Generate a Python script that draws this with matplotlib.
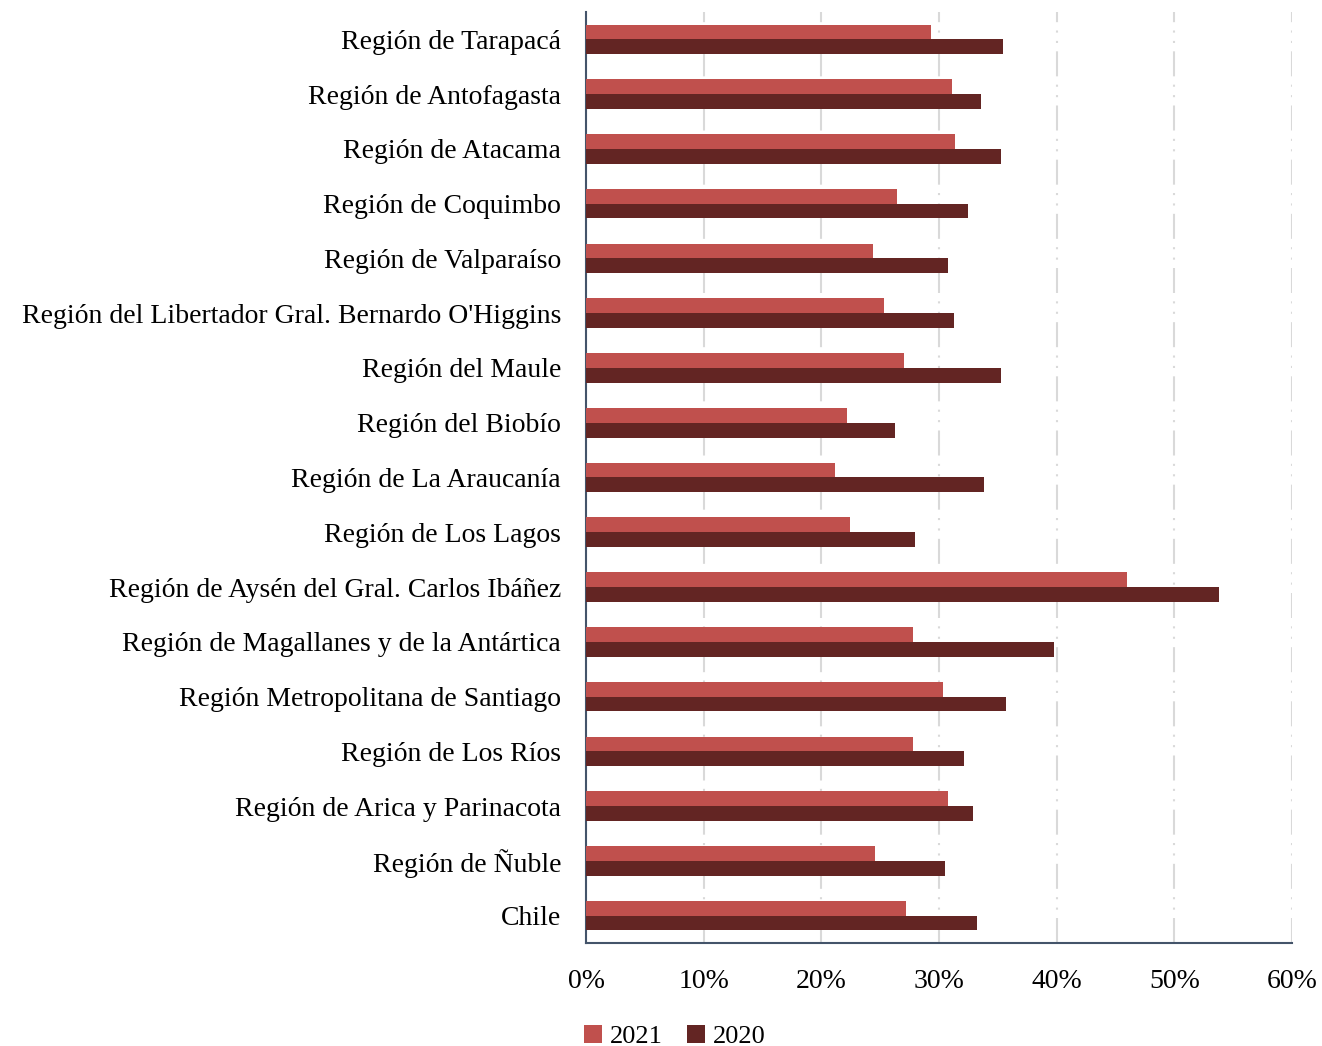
import numpy as np
import matplotlib.pyplot as plt
from matplotlib.ticker import PercentFormatter

regiones = [
    "Región de Tarapacá",
    "Región de Antofagasta",
    "Región de Atacama",
    "Región de Coquimbo",
    "Región de Valparaíso",
    "Región del Libertador Gral. Bernardo O'Higgins",
    "Región del Maule",
    "Región del Biobío",
    "Región de La Araucanía",
    "Región de Los Lagos",
    "Región de Aysén del Gral. Carlos Ibáñez",
    "Región de Magallanes y de la Antártica",
    "Región Metropolitana de Santiago",
    "Región de Los Ríos",
    "Región de Arica y Parinacota",
    "Región de Ñuble",
    "Chile",
]
v2021 = [29.3, 31.1, 31.4, 26.4, 24.4, 25.3, 27.0, 22.2, 21.2, 22.4, 46.0, 27.8, 30.3, 27.8, 30.8, 24.6, 27.2]
v2020 = [35.4, 33.6, 35.3, 32.5, 30.8, 31.3, 35.3, 26.3, 33.8, 28.0, 53.8, 39.8, 35.7, 32.1, 32.9, 30.5, 33.2]

plt.rcParams['font.family'] = ['Liberation Serif', 'DejaVu Serif']

fig = plt.figure(figsize=(13.22, 10.46), dpi=100)
ax = fig.add_axes([0.4433, 0.0985, 0.534, 0.89])

y = np.arange(len(regiones))
h = 0.27
ax.barh(y - h / 2, v2021, height=h, color='#C0504D', label='2021', zorder=3)
ax.barh(y + h / 2, v2020, height=h, color='#632523', label='2020', zorder=3)

ax.set_xlim(0, 60)
ax.set_ylim(len(regiones) - 0.5, -0.5)
ax.set_yticks(y)
ax.set_yticklabels(regiones, fontsize=20)
ax.set_xticks(np.arange(0, 61, 10))
ax.xaxis.set_major_formatter(PercentFormatter(decimals=0))
ax.tick_params(axis='x', labelsize=20, length=0, pad=19)
ax.tick_params(axis='y', length=0, pad=18)

ax.grid(axis='x', color='#D9D9D9', linewidth=1.5, linestyle=(0, (12, 4, 1, 4, 1, 4)), zorder=0)
for s in ['top', 'right']:
    ax.spines[s].set_visible(False)
ax.spines['left'].set_color('#44546A')
ax.spines['bottom'].set_color('#44546A')
ax.spines['left'].set_linewidth(1.5)
ax.spines['bottom'].set_linewidth(1.5)

handles, labels = ax.get_legend_handles_labels()
fig.legend(handles, labels, loc='center', bbox_to_anchor=(675 / 1322, 0.009), ncol=2, frameon=False,
           fontsize=19, handlelength=0.7, handleheight=0.7, handletextpad=0.3, columnspacing=0.9,
           borderpad=0, borderaxespad=0)

fig.savefig('out.png', dpi=100)
